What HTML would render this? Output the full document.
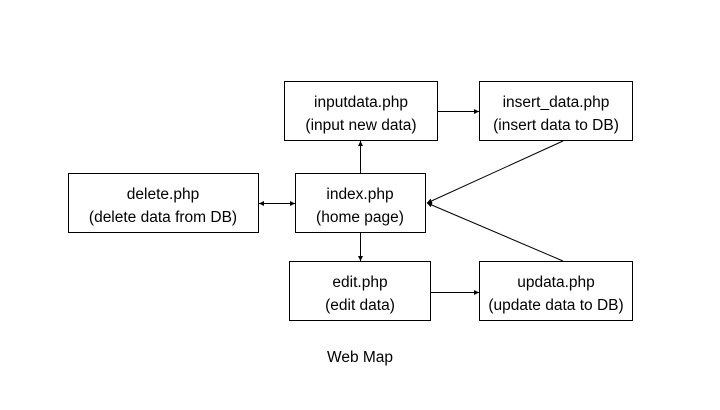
<!DOCTYPE html>
<html><head><style>
body{margin:0;width:720px;height:405px;background:#fff;overflow:hidden}
svg text{font-family:"Liberation Sans",sans-serif;font-size:15.5px;fill:#000}
</style></head><body>
<svg width="720" height="405" xmlns="http://www.w3.org/2000/svg">
<defs><marker id="a" markerWidth="6" markerHeight="6" refX="5" refY="3" orient="auto" markerUnits="userSpaceOnUse"><path d="M0,0.5 L5,3 L0,5.5z" fill="#000"/></marker>
<marker id="s" markerWidth="6" markerHeight="6" refX="1" refY="3" orient="auto" markerUnits="userSpaceOnUse"><path d="M6,0.5 L1,3 L6,5.5z" fill="#000"/></marker></defs>
<g fill="none" stroke="#000" stroke-width="1">
<rect x="284.5" y="81.5" width="153" height="59"/>
<rect x="479.5" y="81.5" width="153" height="59"/>
<rect x="68.5" y="173.5" width="190" height="59"/>
<rect x="295.5" y="173.5" width="130" height="59"/>
<rect x="289.5" y="261.5" width="141" height="59"/>
<rect x="479.5" y="261.5" width="153" height="59"/>
<line x1="360.5" y1="173" x2="360.5" y2="141" marker-end="url(#a)"/>
<line x1="360.5" y1="233" x2="360.5" y2="261" marker-end="url(#a)"/>
<line x1="438" y1="111.5" x2="479" y2="111.5" marker-end="url(#a)"/>
<line x1="431" y1="292.5" x2="479" y2="292.5" marker-end="url(#a)"/>
<line x1="259" y1="203.5" x2="295" y2="203.5" marker-start="url(#s)" marker-end="url(#a)"/>
<line x1="563" y1="141" x2="427" y2="203" marker-end="url(#a)"/>
<line x1="563" y1="261" x2="427" y2="203" marker-end="url(#a)"/>
</g>
<g text-anchor="middle">
<text x="361" y="107">inputdata.php</text><text x="361" y="130">(input new data)</text>
<text x="556" y="107">insert_data.php</text><text x="556" y="130">(insert data to DB)</text>
<text x="163" y="199">delete.php</text><text x="163" y="222">(delete data from DB)</text>
<text x="360" y="199">index.php</text><text x="360" y="222">(home page)</text>
<text x="360" y="287">edit.php</text><text x="360" y="310">(edit data)</text>
<text x="556" y="287">updata.php</text><text x="556" y="310">(update data to DB)</text>
<text x="360" y="362">Web Map</text>
</g>
</svg>
</body></html>
